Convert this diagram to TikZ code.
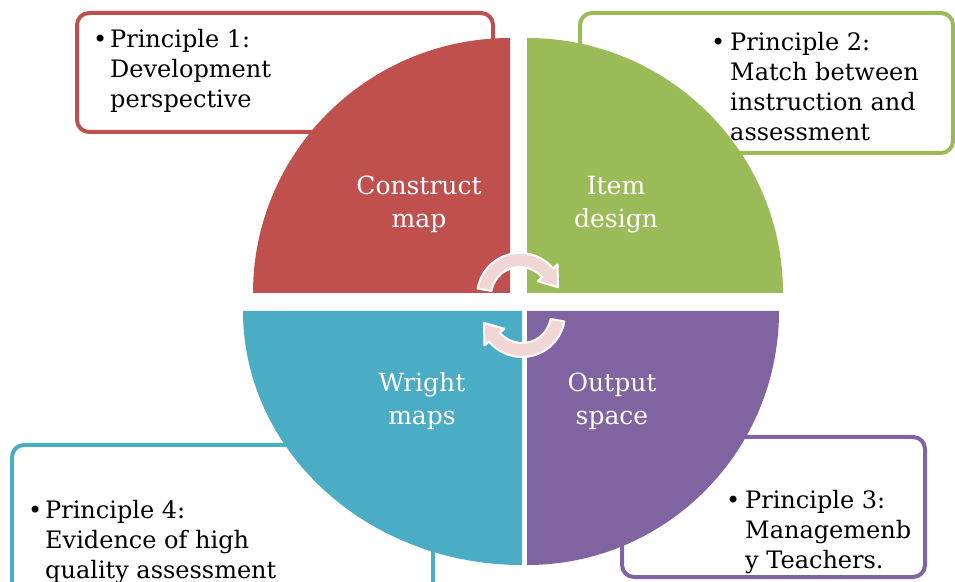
\documentclass[tikz,border=0pt]{standalone}
\usepackage{fontspec}
\setmainfont{DejaVu Serif}
\definecolor{qred}{RGB}{192,80,77}
\definecolor{qgreen}{RGB}{155,187,89}
\definecolor{qblue}{RGB}{75,172,198}
\definecolor{qpurple}{RGB}{128,100,162}
\definecolor{arrowpink}{RGB}{240,214,213}
\tikzset{
  box/.style={line width=4pt, rounded corners=12pt, fill=white},
  boxtext/.style={anchor=base west, inner sep=0pt, font=\fontsize{24}{30}\selectfont, text=black},
  quad/.style={draw=none},
  centertext/.style={anchor=base, inner sep=0pt, font=\fontsize{25}{33}\selectfont, text=white},
  cycarrow/.style={fill=arrowpink, draw=white, line width=2pt, line join=round},
}
\newcommand{\bulletitem}[3]{\makebox[#1][l]{\textbullet}\parbox[t]{#2}{\raggedright #3}}
\newcommand{\centrelines}[1]{\parbox[t]{200pt}{\centering #1}}
\begin{document}
\begin{tikzpicture}[x=1pt,y=1pt]
\useasboundingbox (0,0) rectangle (955,581);
\clip (0,0) rectangle (955,581);
\fill[white] (0,0) rectangle (955,581);

% principle boxes
\draw[box, draw=qred] (77,568) rectangle (493,449);
\draw[box, draw=qgreen] (580,568) rectangle (953,428);
\draw[box, draw=qblue] (12,136) rectangle (433,-20);
\draw[box, draw=qpurple] (622,144) rectangle (925,4);

\node[boxtext] (p1) at (93,533) {\bulletitem{17pt}{200pt}{Principle 1:\\Development\\perspective}};
\node[boxtext] (p2) at (711,530) {\bulletitem{19pt}{220pt}{Principle 2:\\Match between\\instruction and\\assessment}};
\node[boxtext] (p4) at (28,63) {\bulletitem{17pt}{300pt}{Principle 4:\\Evidence of high\\quality assessment}};
\node[boxtext] (p3) at (726,73) {\bulletitem{19pt}{180pt}{Principle 3:\\Managemenb\\y Teachers.}};

% quadrants
\fill[qred] (510,288) -- (253,288) arc[start angle=180, end angle=90, x radius=257, y radius=255] -- cycle;
\fill[qgreen] (527,288) -- (527,543) arc[start angle=90, end angle=0, x radius=256, y radius=255] -- cycle;
\fill[qblue] (522,270) -- (243,270) arc[start angle=180, end angle=270, x radius=279, y radius=254] -- cycle;
\fill[qpurple] (527,270) -- (779,270) arc[start angle=0, end angle=-90, x radius=252, y radius=254] -- cycle;

% quadrant labels
\node[centertext] (q1) at (419,386) {\centrelines{Construct\\map}};
\node[centertext] (q2) at (616,386) {\centrelines{Item\\design}};
\node[centertext] (q4) at (422,189) {\centrelines{Wright\\maps}};
\node[centertext] (q3) at (612,189) {\centrelines{Output\\space}};

% cycle arrows
\begin{scope}[shift={(520,285)}]
\draw[cycarrow] (170:43) arc[start angle=170, end angle=40, radius=43] -- (40:49) -- (13:39) -- (40:23) -- (40:29) arc[start angle=40, end angle=170, radius=29] -- cycle;
\end{scope}
\begin{scope}[shift={(522,267)}]
\draw[cycarrow] (-10:43) arc[start angle=-10, end angle=-140, radius=43] -- (-140:49) -- (-167:39) -- (-140:23) -- (-140:29) arc[start angle=-140, end angle=-10, radius=29] -- cycle;
\end{scope}
\end{tikzpicture}
\end{document}
